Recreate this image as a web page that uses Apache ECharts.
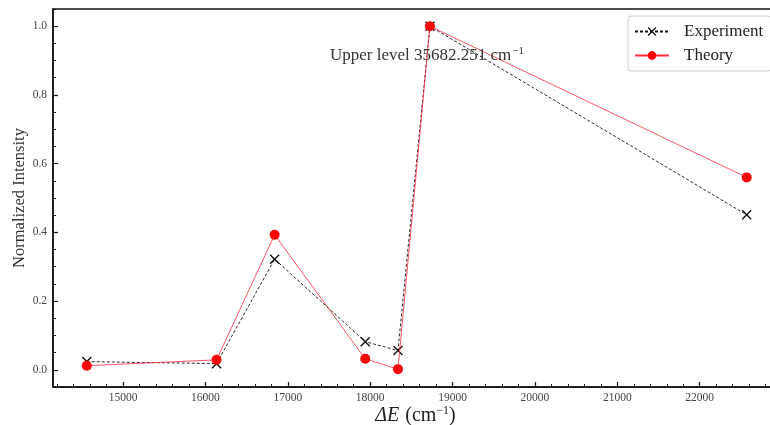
<!DOCTYPE html>
<html>
<head>
<meta charset="utf-8">
<script src="https://cdn.jsdelivr.net/npm/echarts@6/dist/echarts.min.js"></script>
<style>html,body{margin:0;padding:0;background:#fff}#c{width:770px;height:425px}</style>
</head>
<body>
<div id="c"></div>
<script>
var deltaE = [14560, 16135, 16840, 17940, 18337, 18725, 22570];
var experiment = [0.024, 0.018, 0.322, 0.082, 0.056, 1.0, 0.451];
var theory = [0.012, 0.029, 0.393, 0.032, 0.002, 1.0, 0.560];
var xTicks = [15000, 16000, 17000, 18000, 19000, 20000, 21000, 22000];
var yTicks = [0.0, 0.2, 0.4, 0.6, 0.8, 1.0];

var FONT = '"Liberation Serif", "DejaVu Serif", serif';
var chart = echarts.init(document.getElementById('c'), null, {renderer: 'canvas'});
function pairs(xs, ys){ return xs.map(function(x,i){ return [x, ys[i]]; }); }
function range(a, b, step){ var r = []; for (var k = 0; a + k*step <= b + 1e-9; k++) r.push(+(a + k*step).toFixed(6)); return r; }
var xMinor = range(14200, 22900, 200);
var yMinor = range(-0.05, 1.05, 0.05);
var xSym = 'path://M0,1L1,0L5,4L9,0L10,1L6,5L10,9L9,10L5,6L1,10L0,9L4,5Z';

var option = {
  backgroundColor: '#fff',
  animation: false,
  textStyle: {fontFamily: FONT},
  grid: {left: 53, top: 9, width: 725, height: 378, outerBoundsMode: 'none', containLabel: false,
    show: true, borderColor: '#111', borderWidth: 1.5, backgroundColor: 'transparent'},
  xAxis: [{
    type: 'value', min: 14150, max: 22950,
    name: '{i|ΔE}  {n|(cm}{s|−1}{n|)}', nameLocation: 'middle', nameGap: 18, nameMoveOverlap: false,
    nameTextStyle: {rich: {
      i: {fontFamily: FONT, fontSize: 20, fontStyle: 'italic', color: '#222'},
      n: {fontFamily: FONT, fontSize: 20, color: '#222'},
      s: {fontFamily: FONT, fontSize: 12, color: '#222', verticalAlign: 'top', padding: [0,0,10,0]}
    }},
    axisLine: {show: true, onZero: false, lineStyle: {color: '#111', width: 1.5}},
    axisTick: {show: true, inside: true, length: 5, customValues: xTicks, lineStyle: {color: '#111', width: 1.2}},
    splitLine: {show: false},
    axisLabel: {customValues: xTicks, fontFamily: FONT, fontSize: 11.5, color: '#444', margin: 5,
      formatter: function(v){ return String(Math.round(v)); }}
  }, {
    type: 'value', min: 14150, max: 22950, position: 'bottom',
    axisLine: {show: false, onZero: false}, axisLabel: {show: false}, splitLine: {show: false},
    axisTick: {show: true, inside: true, length: 3, customValues: xMinor, lineStyle: {color: '#111', width: 1}}
  }],
  yAxis: [{
    type: 'value', min: -0.05, max: 1.05,
    name: 'Normalized Intensity', nameLocation: 'middle', nameGap: 25, nameMoveOverlap: false,
    nameTextStyle: {fontFamily: FONT, fontSize: 16.5, color: '#333'},
    axisLine: {show: true, onZero: false, lineStyle: {color: '#111', width: 1.5}},
    axisTick: {show: true, inside: true, length: 5, customValues: yTicks, lineStyle: {color: '#111', width: 1.2}},
    splitLine: {show: false},
    axisLabel: {customValues: yTicks, fontFamily: FONT, fontSize: 11.5, color: '#444', margin: 6,
      formatter: function(v){ return (+v).toFixed(1); }}
  }, {
    type: 'value', min: -0.05, max: 1.05, position: 'left',
    axisLine: {show: false, onZero: false}, axisLabel: {show: false}, splitLine: {show: false},
    axisTick: {show: true, inside: true, length: 3, customValues: yMinor, lineStyle: {color: '#111', width: 1}}
  }],
  legend: {
    orient: 'vertical', left: 628, top: 16, padding: [7, 8, 7, 6],
    itemWidth: 34, itemHeight: 11, itemGap: 7,
    backgroundColor: '#fff', borderColor: '#ccc', borderWidth: 1, borderRadius: 3,
    textStyle: {fontFamily: FONT, fontSize: 17, color: '#222', padding: [0,0,0,10]},
    data: ['Experiment', 'Theory']
  },
  series: [{
    name: 'Experiment', type: 'line', xAxisIndex: 0, yAxisIndex: 0,
    data: pairs(deltaE, experiment),
    symbol: xSym, symbolSize: 10,
    itemStyle: {color: '#111'},
    lineStyle: {color: '#111', width: 0.9, type: [3, 2]},
    z: 2
  }, {
    name: 'Theory', type: 'line', xAxisIndex: 0, yAxisIndex: 0,
    data: pairs(deltaE, theory),
    symbol: 'circle', symbolSize: 10,
    itemStyle: {color: '#ff0000'},
    lineStyle: {color: '#ff2a3a', width: 0.8},
    z: 3
  }],
  graphic: [{
    type: 'text', left: 330, top: 46, z: 10,
    style: {
      text: '{n|Upper level 35682.251 cm}{s|−1}',
      rich: {
        n: {fontFamily: FONT, fontSize: 17, fill: '#333'},
        s: {fontFamily: FONT, fontSize: 11, fill: '#333', verticalAlign: 'top', padding: [0,0,9,1]}
      }
    }
  }]
};
chart.setOption(option);
</script>
</body>
</html>
